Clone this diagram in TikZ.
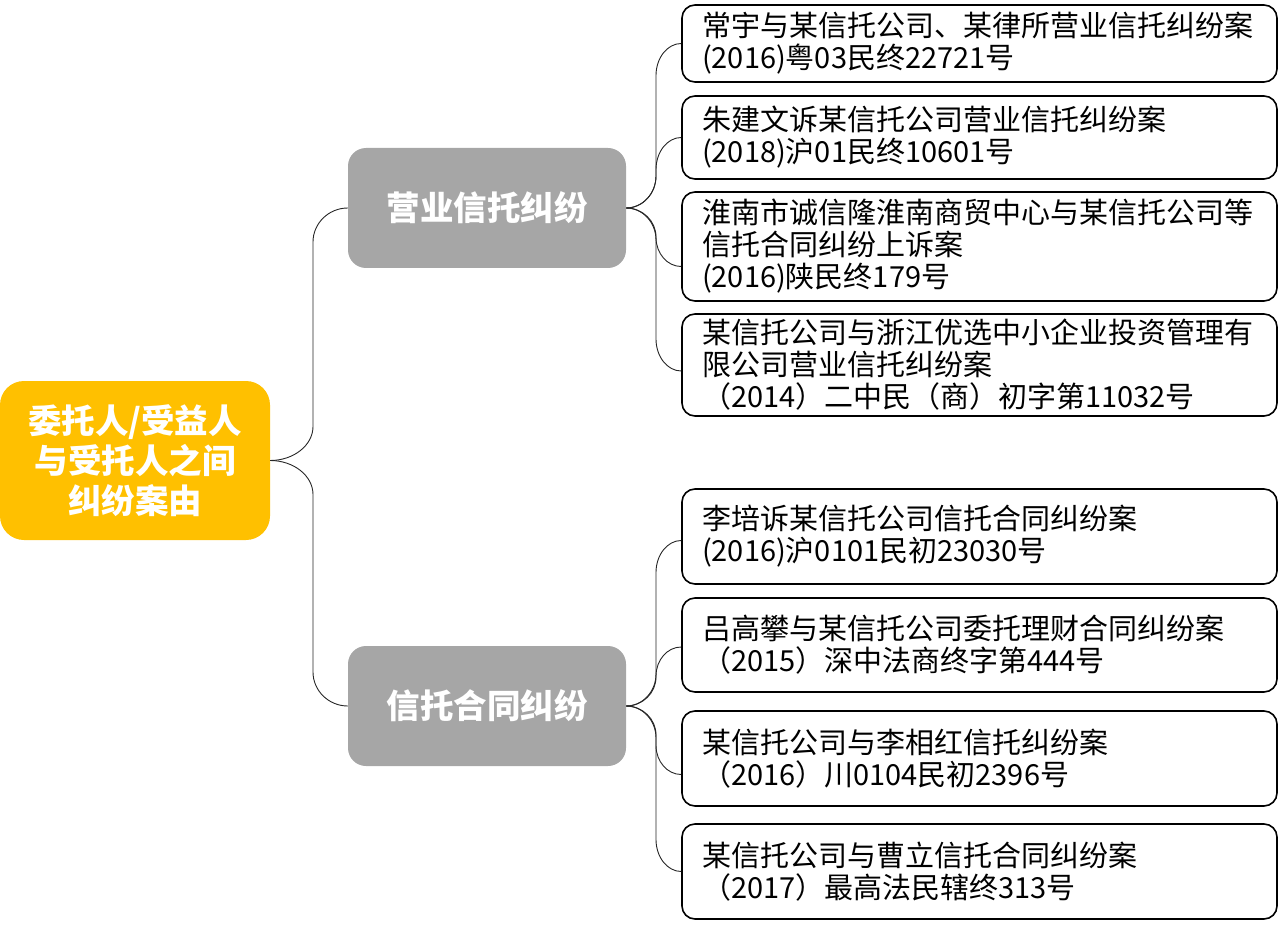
\documentclass[tikz,border=0pt]{standalone}
\usepackage{fontspec}
\setmainfont{Noto Sans CJK SC}
\usetikzlibrary{calc}
\definecolor{rootfill}{HTML}{FFC000}
\definecolor{branchfill}{HTML}{A6A6A6}
\tikzset{
 rootbox/.style={fill=rootfill, rounded corners=24pt, minimum width=270pt, minimum height=159pt, inner sep=0pt, text=white, align=center, font=\fontsize{33.5}{40}\selectfont\bfseries},
 branchbox/.style={fill=branchfill, rounded corners=18pt, minimum width=278pt, minimum height=120pt, inner sep=0pt, text=white, font=\fontsize{33.5}{40}\selectfont\bfseries},
 leafbox/.style={draw=black, line width=1.6pt, rounded corners=13pt, minimum width=595pt, text width=555pt, inner xsep=20pt, inner ysep=0pt, align=left, font=\fontsize{29}{32}\selectfont},
 conn/.style={draw=black!85, line width=0.9pt},
}
% parent, child, vertical line coordinate, signed radius, y offset at child
\newcommand\mmconn[5]{\draw[conn] (#1.east) .. controls ($(#1.east)!0.55!(#1.east -| #3)$) and ($(#1.east -| #3)+(0,{0.45*(#4)})$) .. ($(#1.east -| #3)+(0,#4)$) -- ($(#2.west -| #3)+(0,{#5-(#4)})$) .. controls ($(#2.west -| #3)+(0,{#5-0.45*(#4)})$) and ($(#2.west -| #3)!0.45!(#2.west)+(0,#5)$) .. ($(#2.west)+(0,#5)$);}
\begin{document}
\begin{tikzpicture}[x=1pt,y=-1pt]
\useasboundingbox (0,0) rectangle (1279,925);
\node[rootbox] (root) at (135,460.5) {委托人/受益人\\与受托人之间\\纠纷案由};
\node[branchbox] (b1) at (487,208) {营业信托纠纷};
\node[branchbox] (b2) at (487,706) {信托合同纠纷};
\node[leafbox, minimum height=77pt] (l1) at (979.5,43.5) {常宇与某信托公司、某律所营业信托纠纷案\\(2016)粤03民终22721号};
\node[leafbox, minimum height=83pt] (l2) at (979.5,137.5) {朱建文诉某信托公司营业信托纠纷案\\(2018)沪01民终10601号};
\node[leafbox, minimum height=109pt] (l3) at (979.5,246.5) {淮南市诚信隆淮南商贸中心与某信托公司等\\信托合同纠纷上诉案\\(2016)陕民终179号};
\node[leafbox, minimum height=102pt] (l4) at (979.5,365) {某信托公司与浙江优选中小企业投资管理有\\限公司营业信托纠纷案\\（2014）二中民（商）初字第11032号};
\node[leafbox, minimum height=95pt] (l5) at (979.5,536.5) {李培诉某信托公司信托合同纠纷案\\(2016)沪0101民初23030号};
\node[leafbox, minimum height=94pt] (l6) at (979.5,645) {吕高攀与某信托公司委托理财合同纠纷案\\（2015）深中法商终字第444号};
\node[leafbox, minimum height=95pt] (l7) at (979.5,758.5) {某信托公司与李相红信托纠纷案\\（2016）川0104民初2396号};
\node[leafbox, minimum height=95pt] (l8) at (979.5,871.5) {某信托公司与曹立信托合同纠纷案\\（2017）最高法民辖终313号};
\coordinate (v0) at (313,0);
\coordinate (v1) at (656,0);
\coordinate (v2) at (656,0);
\mmconn{root}{b1}{v0}{-34}{0}
\mmconn{root}{b2}{v0}{34}{0}
\mmconn{b1}{l1}{v1}{-32}{0}
\mmconn{b1}{l2}{v1}{-32}{0}
\mmconn{b1}{l3}{v1}{29}{20}
\mmconn{b1}{l4}{v1}{32}{6}
\mmconn{b2}{l5}{v2}{-32}{4}
\mmconn{b2}{l6}{v2}{-29}{2}
\mmconn{b2}{l7}{v2}{29}{16}
\mmconn{b2}{l8}{v2}{32}{0}
\end{tikzpicture}
\end{document}
